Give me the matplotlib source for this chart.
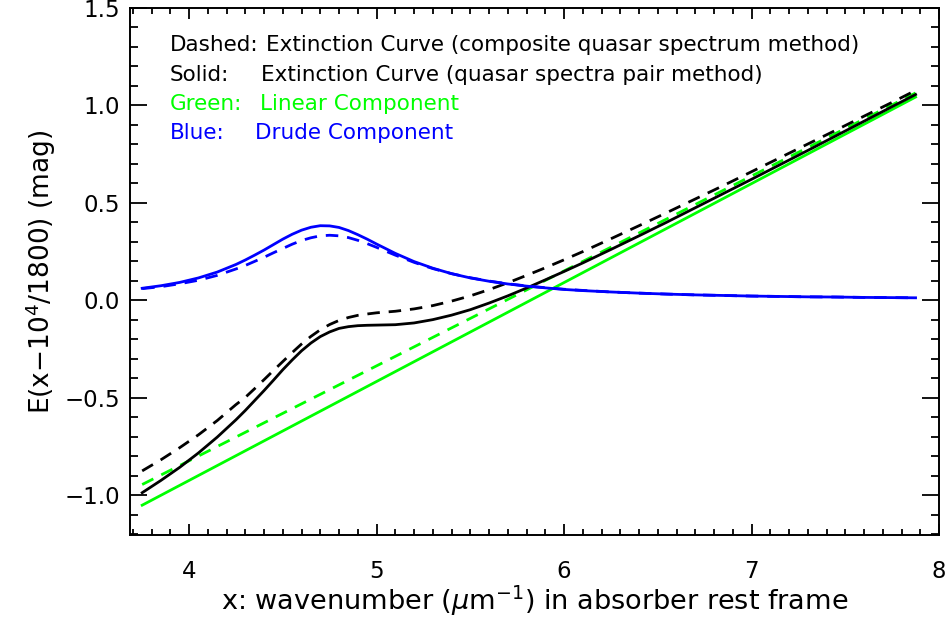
import numpy as np
import matplotlib
matplotlib.use("Agg")
import matplotlib.pyplot as plt
from matplotlib.ticker import MultipleLocator

# wavenumber grid (1/micron, absorber rest frame)
x = [3.75, 3.85, 3.95, 4.05, 4.15, 4.25, 4.3, 4.35, 4.4, 4.45, 4.5, 4.55,
     4.6, 4.65, 4.7, 4.75, 4.8, 4.85, 4.9, 4.95, 5.0, 5.05, 5.1, 5.2, 5.3,
     5.4, 5.5, 5.6, 5.7, 5.8, 5.9, 6.0, 6.1, 6.25, 6.4, 6.55, 6.7, 6.85,
     7.0, 7.15, 7.3, 7.45, 7.6, 7.75, 7.875]

# Drude bump component
drude_pair = [0.062, 0.075, 0.092, 0.115, 0.145, 0.184, 0.207, 0.232, 0.258,
              0.286, 0.314, 0.339, 0.360, 0.375, 0.383, 0.382, 0.374, 0.358,
              0.337, 0.314, 0.289, 0.265, 0.241, 0.199, 0.165, 0.137, 0.115,
              0.098, 0.084, 0.073, 0.064, 0.056, 0.050, 0.043, 0.037, 0.032,
              0.028, 0.025, 0.022, 0.020, 0.018, 0.017, 0.015, 0.014, 0.013]
drude_comp = [0.060, 0.070, 0.085, 0.103, 0.128, 0.161, 0.179, 0.200, 0.221,
              0.244, 0.266, 0.288, 0.307, 0.321, 0.331, 0.334, 0.331, 0.322,
              0.308, 0.291, 0.272, 0.252, 0.232, 0.195, 0.163, 0.137, 0.116,
              0.099, 0.085, 0.074, 0.065, 0.057, 0.051, 0.043, 0.037, 0.032,
              0.028, 0.025, 0.022, 0.020, 0.018, 0.017, 0.015, 0.014, 0.013]

# full extinction curves
ext_pair = [-0.987, -0.924, -0.857, -0.783, -0.702, -0.613, -0.565, -0.514,
            -0.463, -0.410, -0.356, -0.306, -0.259, -0.219, -0.186, -0.162,
            -0.144, -0.135, -0.130, -0.128, -0.127, -0.126, -0.125, -0.116,
            -0.099, -0.076, -0.048, -0.014, 0.023, 0.063, 0.105, 0.148,
            0.192, 0.261, 0.331, 0.402, 0.475, 0.548, 0.621, 0.695, 0.769,
            0.844, 0.919, 0.994, 1.056]
ext_comp = [-0.875, -0.818, -0.756, -0.690, -0.617, -0.535, -0.498, -0.453,
            -0.407, -0.360, -0.314, -0.268, -0.224, -0.185, -0.151, -0.124,
            -0.103, -0.088, -0.077, -0.070, -0.064, -0.060, -0.056, -0.044,
            -0.027, -0.004, 0.023, 0.055, 0.090, 0.128, 0.167, 0.208, 0.250,
            0.316, 0.383, 0.451, 0.520, 0.589, 0.660, 0.731, 0.802, 0.873,
            0.945, 1.016, 1.077]

# linear component, end points
x_lin = [3.75, 7.875]
lin_pair = [-1.051, 1.043]
lin_comp = [-0.945, 1.064]

legend_rows = [
    ("Dashed:", "Extinction Curve (composite quasar spectrum method)", "black", 0.1677),
    ("Solid:", "Extinction Curve (quasar spectra pair method)", "black", 0.162),
    ("Green:", "Linear Component", "#00ff00", 0.1607),
    ("Blue:", "Drude Component", "#0000ff", 0.1545),
]

plt.rcParams["font.family"] = ["DejaVu Sans"]
plt.rcParams["mathtext.fontset"] = "dejavusans"

fig = plt.figure(figsize=(9.53, 6.27), dpi=100)
ax = fig.add_axes([130 / 953, 1 - 535 / 627, 809 / 953, 527 / 627])

dash = (0, (4.5, 3.2))
lw = 2.0
ax.plot(x_lin, lin_comp, color="#00ff00", lw=lw, ls=dash, zorder=2)
ax.plot(x_lin, lin_pair, color="#00ff00", lw=lw, zorder=2)
ax.plot(x, ext_comp, color="black", lw=lw, ls=dash, zorder=3)
ax.plot(x, ext_pair, color="black", lw=lw, zorder=3)
ax.plot(x, drude_comp, color="#0000ff", lw=lw, ls=dash, zorder=4)
ax.plot(x, drude_pair, color="#0000ff", lw=lw, zorder=4)

ax.set_xlim(3.685, 8.0)
ax.set_ylim(-1.204, 1.5)
ax.xaxis.set_major_locator(MultipleLocator(1))
ax.xaxis.set_minor_locator(MultipleLocator(0.1))
ax.yaxis.set_minor_locator(MultipleLocator(0.1))
ax.set_yticks([-1.0, -0.5, 0.0, 0.5, 1.0, 1.5])
ax.set_yticklabels(["\u22121.0", "\u22120.5", "0.0", "0.5", "1.0", "1.5"])

for sp in ax.spines.values():
    sp.set_linewidth(1.4)
ax.tick_params(axis="both", which="both", direction="in", top=True, right=True,
               width=1.3, labelsize=16.5)
ax.tick_params(axis="x", which="major", length=8, pad=18)
ax.tick_params(axis="x", which="minor", length=4)
ax.tick_params(axis="y", which="major", length=12, pad=7)
ax.tick_params(axis="y", which="minor", length=6)

ax.set_xlabel(r"x: wavenumber ($\mu$m$^{-1}$) in absorber rest frame",
              fontsize=19.5, labelpad=0)
ax.set_ylabel(r"E(x$-$10$^4$/1800) (mag)", fontsize=19, labelpad=5)

ys = [0.9177, 0.862, 0.806, 0.751]
for (key, desc, col, xd), yy in zip(legend_rows, ys):
    ax.text(0.0494, yy, key, color=col, fontsize=15.5, transform=ax.transAxes,
            va="baseline")
    ax.text(xd, yy, desc, color=col, fontsize=15.5, transform=ax.transAxes,
            va="baseline")

fig.savefig("out.png", dpi=100)
